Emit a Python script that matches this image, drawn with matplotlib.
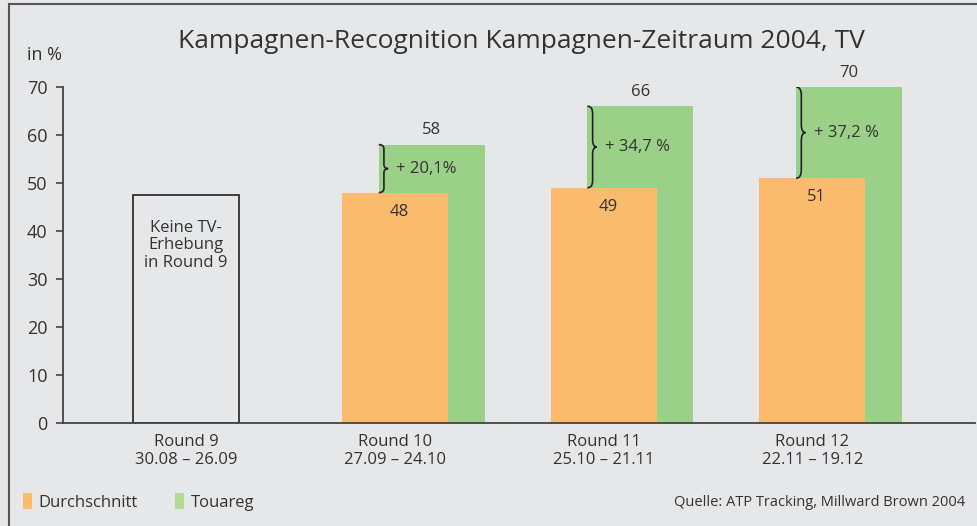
import matplotlib
matplotlib.use("Agg")
import matplotlib.pyplot as plt
from matplotlib.patches import Rectangle, Patch, PathPatch
from matplotlib.path import Path
import numpy as np

plt.rcParams['font.family'] = ['Open Sans', 'DejaVu Sans']

# ---- data ----
categories = ["Round 9\n30.08 – 26.09", "Round 10\n27.09 – 24.10",
              "Round 11\n25.10 – 21.11", "Round 12\n22.11 – 19.12"]
durchschnitt = [None, 48, 49, 51]
touareg = [None, 58, 66, 70]
increase_labels = [None, "+ 20,1%", "+ 34,7 %", "+ 37,2 %"]
placeholder_height = 47.5
placeholder_text = "Keine TV-\nErhebung\nin Round 9"
yticks = [0, 10, 20, 30, 40, 50, 60, 70]
title = "Kampagnen-Recognition Kampagnen-Zeitraum 2004, TV"
ylabel = "in %"
source = "Quelle: ATP Tracking, Millward Brown 2004"
series_names = ["Durchschnitt", "Touareg"]

# ---- style ----
BG = "#e6e7e9"
ORANGE = "#fbbb6e"
GREEN = "#9bd088"
TXT = "#333333"
AX = "#444444"

W, H = 978, 526
fig = plt.figure(figsize=(W / 100, H / 100), dpi=100, facecolor=BG)

# frame (left and top border)
fig.add_artist(plt.Line2D([9 / W, 9 / W], [0, 1 - 4 / H], transform=fig.transFigure,
                          color="#555555", lw=1.5))
fig.add_artist(plt.Line2D([9 / W, 1], [1 - 4 / H, 1 - 4 / H], transform=fig.transFigure,
                          color="#555555", lw=1.5))

ax_left, ax_right, ax_top, ax_bottom = 63, 975, 87, 423
ax = fig.add_axes([ax_left / W, 1 - ax_bottom / H, (ax_right - ax_left) / W,
                   (ax_bottom - ax_top) / H])
ax.set_facecolor(BG)

x = np.arange(len(categories))
bw = 0.508
off = 0.177

# green bars (behind) and orange bars
for i in range(len(categories)):
    if touareg[i] is not None:
        ax.bar(x[i] + off, touareg[i], width=bw, color=GREEN, zorder=1)
    if durchschnitt[i] is not None:
        ax.bar(x[i], durchschnitt[i], width=bw, color=ORANGE, zorder=2)

# placeholder box for round 9
ax.bar(x[0], placeholder_height, width=bw, facecolor="none", edgecolor="#222222",
       lw=1.2, zorder=2)
ax.text(x[0], placeholder_height - 5.2, placeholder_text, ha="center", va="top",
        fontsize=12, color=TXT, linespacing=1.12)


def brace(ax, x0, yb, yt, w):
    ym = (yb + yt) / 2
    h = yt - yb
    d = h * 0.09
    verts = [
        (x0, yb), (x0 + w * 0.55, yb), (x0 + w * 0.55, yb + d),
        (x0 + w * 0.55, ym - d),
        (x0 + w * 0.55, ym), (x0 + w, ym),
        (x0 + w * 0.55, ym), (x0 + w * 0.55, ym + d),
        (x0 + w * 0.55, yt - d),
        (x0 + w * 0.55, yt), (x0, yt),
    ]
    codes = [Path.MOVETO, Path.CURVE3, Path.CURVE3, Path.LINETO,
             Path.CURVE3, Path.CURVE3, Path.CURVE3, Path.CURVE3,
             Path.LINETO, Path.CURVE3, Path.CURVE3]
    ax.add_patch(PathPatch(Path(verts, codes), fill=False, edgecolor="#222222",
                           lw=1.2, zorder=3))


for i in range(len(categories)):
    if touareg[i] is None:
        continue
    gx = x[i] + off
    ax.text(gx, touareg[i] + 1.3, f"{touareg[i]}", ha="center", va="bottom",
            fontsize=12, color=TXT, clip_on=False)
    ax.text(x[i] + 0.02, durchschnitt[i] - 4, f"{durchschnitt[i]}", ha="center",
            va="center", fontsize=12, color=TXT)
    left = gx - bw / 2
    brace(ax, left, durchschnitt[i], touareg[i], 0.045)
    ax.text(left + 0.085, (durchschnitt[i] + touareg[i]) / 2, increase_labels[i],
            ha="left", va="center", fontsize=12, color=TXT)

ax.set_xlim(-0.59, 3.78)
ax.set_ylim(0, 70)
ax.set_yticks(yticks)
ax.set_yticklabels([str(t) for t in yticks], fontsize=13, color=TXT)
ax.set_xticks(x)
ax.set_xticklabels(categories, fontsize=12, color=TXT, linespacing=1.15)
ax.tick_params(axis="x", length=0, pad=8)
ax.tick_params(axis="y", length=5, width=1.2, color=AX, pad=6)
for s in ["top", "right"]:
    ax.spines[s].set_visible(False)
ax.spines["left"].set_color(AX)
ax.spines["left"].set_linewidth(1.3)
ax.spines["left"].set_bounds(0, 70)
ax.spines["bottom"].set_color(AX)
ax.spines["bottom"].set_linewidth(1.3)

fig.text(521 / W, 1 - 42 / H, title, ha="center", va="center", fontsize=19, color=TXT)
fig.text(27 / W, 1 - 55 / H, ylabel, ha="left", va="center", fontsize=13, color=TXT)
fig.text(965 / W, 1 - 502 / H, source, ha="right", va="center", fontsize=10.5, color=TXT)

handles = [Patch(facecolor=ORANGE, edgecolor="none"),
           Patch(facecolor="#b3db97", edgecolor="none")]
fig.legend(handles, series_names, loc="center left",
           bbox_to_anchor=(8 / W, 1 - 502 / H), ncol=2, frameon=False,
           fontsize=12, handlelength=0.55, handleheight=1.1, handletextpad=0.4,
           columnspacing=2.2, labelcolor=TXT)

fig.savefig("out.png", dpi=100, facecolor=BG)
